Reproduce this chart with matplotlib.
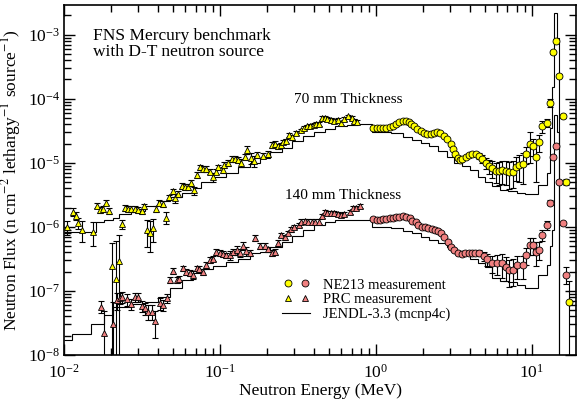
import numpy as np
from matplotlib import pyplot as plt
from matplotlib.legend_handler import HandlerTuple
from matplotlib.ticker import LogLocator, NullFormatter

# PRC measurement (E [MeV], flux, relative error)
prc_70 = [
    (0.0105, 1.0e-6, 0.25), (0.0114, 1.73e-6, 0.15), (0.0119, 1.5e-6, 0.15),
    (0.0123, 1.16e-6, 0.2), (0.0130, 9.0e-7, 0.35), (0.0153, 8.4e-7, 0.4),
    (0.0162, 2.15e-6, 0.1), (0.0170, 1.85e-6, 0.1), (0.0178, 1.9e-6, 0.1),
    (0.0186, 2.4e-6, 0.1), (0.0194, 1.77e-6, 0.1), (0.0203, 2.46e-7, 1.3),
    (0.0215, 1.54e-7, 2.9), (0.0225, 2.97e-7, 1.5), (0.0234, 1.1e-6, 0.15),
    (0.0245, 2.0e-6, 0.1), (0.0257, 1.9e-6, 0.1), (0.0270, 1.9e-6, 0.1),
    (0.0285, 1.9e-6, 0.1), (0.0298, 1.85e-6, 0.1), (0.0315, 1.75e-6, 0.1),
    (0.0326, 2.1e-6, 0.1), (0.0339, 8.8e-7, 0.45), (0.0356, 8.1e-7, 0.5),
    (0.0370, 9.6e-7, 0.4), (0.0389, 1.9e-6, 0.1), (0.0407, 2.4e-6, 0.1),
    (0.0431, 2.3e-6, 0.1), (0.045, 1.4e-6, 0.2), (0.047, 2.9e-6, 0.1),
    (0.050, 3.6e-6, 0.1), (0.0516, 2.8e-6, 0.15), (0.054, 3.3e-6, 0.1),
    (0.057, 4.4e-6, 0.1), (0.060, 4.2e-6, 0.1), (0.0625, 4.2e-6, 0.1),
    (0.065, 4.9e-6, 0.1), (0.068, 3.7e-6, 0.15), (0.071, 6.5e-6, 0.1),
    (0.075, 8.5e-6, 0.1), (0.078, 8.0e-6, 0.1), (0.082, 8.0e-6, 0.1),
    (0.086, 7.3e-6, 0.1), (0.090, 6.0e-6, 0.15), (0.094, 7.3e-6, 0.1),
    (0.098, 8.5e-6, 0.1), (0.104, 7.8e-6, 0.1), (0.107, 9.2e-6, 0.1),
    (0.112, 1.0e-5, 0.1), (0.119, 1.16e-5, 0.1), (0.125, 1.16e-5, 0.1),
    (0.130, 1.1e-5, 0.1), (0.137, 1.0e-5, 0.15), (0.145, 1.25e-5, 0.1),
    (0.150, 1.6e-5, 0.15), (0.158, 1.2e-5, 0.2), (0.166, 1.07e-5, 0.2),
    (0.174, 1.33e-5, 0.1), (0.190, 1.3e-5, 0.1), (0.203, 1.37e-5, 0.1),
    (0.215, 1.9e-5, 0.1), (0.225, 1.97e-5, 0.1), (0.235, 1.8e-5, 0.1),
    (0.245, 1.9e-5, 0.08), (0.255, 2.1e-5, 0.08), (0.265, 2.2e-5, 0.08),
    (0.278, 2.7e-5, 0.08), (0.290, 2.5e-5, 0.08), (0.310, 2.9e-5, 0.07),
    (0.330, 3.2e-5, 0.07), (0.345, 3.5e-5, 0.07), (0.360, 3.7e-5, 0.07),
    (0.380, 3.8e-5, 0.07), (0.400, 3.9e-5, 0.07), (0.415, 4.0e-5, 0.07),
    (0.430, 4.1e-5, 0.07), (0.450, 5.0e-5, 0.07), (0.470, 5.0e-5, 0.07),
    (0.490, 4.8e-5, 0.07), (0.520, 4.6e-5, 0.07), (0.540, 4.5e-5, 0.07),
    (0.570, 4.6e-5, 0.07), (0.600, 4.2e-5, 0.07), (0.630, 4.8e-5, 0.07),
    (0.660, 5.3e-5, 0.07), (0.700, 5.0e-5, 0.07), (0.730, 4.5e-5, 0.07),
    (0.760, 4.3e-5, 0.07),
]

prc_140 = [
    (0.0172, 5.7e-8, 0.2), (0.0181, 2.2e-8, 1.2), (0.0207, 3.1e-8, 1.2),
    (0.0218, 7.1e-8, 0.3), (0.0228, 7.7e-8, 0.2), (0.0237, 8.1e-8, 0.2),
    (0.0252, 7.4e-8, 0.2), (0.0269, 6.3e-8, 0.2), (0.0285, 8.0e-8, 0.15),
    (0.0300, 8.0e-8, 0.15), (0.0315, 5.8e-8, 0.2), (0.0330, 5.35e-8, 0.2),
    (0.0347, 4.75e-8, 0.25), (0.0365, 4.75e-8, 0.25), (0.0383, 3.4e-8, 0.45),
    (0.0412, 6.4e-8, 0.2), (0.0432, 6.0e-8, 0.2), (0.0456, 7.7e-8, 0.15),
    (0.0478, 1.49e-7, 0.1), (0.0502, 2.05e-7, 0.1), (0.0527, 1.49e-7, 0.1),
    (0.055, 1.53e-7, 0.1), (0.058, 2.26e-7, 0.1), (0.061, 2.0e-7, 0.1),
    (0.064, 1.9e-7, 0.1), (0.0675, 1.78e-7, 0.15), (0.071, 2.26e-7, 0.1),
    (0.074, 2.2e-7, 0.1), (0.078, 2.0e-7, 0.1), (0.082, 2.55e-7, 0.1),
    (0.086, 3.05e-7, 0.1), (0.090, 3.2e-7, 0.1), (0.095, 4.1e-7, 0.1),
    (0.100, 3.9e-7, 0.1), (0.105, 3.8e-7, 0.1), (0.110, 3.6e-7, 0.1),
    (0.116, 3.6e-7, 0.15), (0.122, 4.1e-7, 0.1), (0.128, 4.35e-7, 0.15),
    (0.134, 3.95e-7, 0.15), (0.141, 5.05e-7, 0.15), (0.148, 4.2e-7, 0.15),
    (0.155, 3.9e-7, 0.1), (0.167, 6.7e-7, 0.1), (0.180, 5.05e-7, 0.1),
    (0.194, 5.05e-7, 0.1), (0.203, 4.45e-7, 0.1), (0.215, 3.95e-7, 0.1),
    (0.225, 4.1e-7, 0.1), (0.236, 5.6e-7, 0.1), (0.248, 7.5e-7, 0.08),
    (0.260, 6.9e-7, 0.08), (0.275, 8.1e-7, 0.08), (0.287, 9.2e-7, 0.08),
    (0.300, 9.9e-7, 0.08), (0.320, 1.07e-6, 0.08), (0.330, 1.21e-6, 0.08),
    (0.350, 1.25e-6, 0.08), (0.370, 1.21e-6, 0.08), (0.390, 1.21e-6, 0.08),
    (0.410, 1.21e-6, 0.08), (0.430, 1.21e-6, 0.08), (0.450, 1.49e-6, 0.07),
    (0.470, 1.73e-6, 0.07), (0.490, 1.67e-6, 0.07), (0.520, 1.67e-6, 0.07),
    (0.540, 1.64e-6, 0.07), (0.570, 1.6e-6, 0.07), (0.600, 1.55e-6, 0.07),
    (0.630, 1.6e-6, 0.07), (0.680, 1.73e-6, 0.07), (0.710, 1.96e-6, 0.07),
    (0.750, 1.96e-6, 0.07), (0.790, 2.1e-6, 0.07),
]

# NE213 measurement (E [MeV], flux, relative error)
ne213_70 = [
    (0.96, 3.48e-5, 0.03), (1.02, 3.5e-5, 0.03), (1.06, 3.45e-5, 0.03),
    (1.11, 3.45e-5, 0.03), (1.17, 3.45e-5, 0.03), (1.23, 3.6e-5, 0.03),
    (1.29, 3.8e-5, 0.03), (1.35, 4.1e-5, 0.03), (1.42, 4.3e-5, 0.03),
    (1.49, 4.45e-5, 0.03), (1.57, 4.45e-5, 0.03), (1.63, 4.3e-5, 0.03),
    (1.69, 4.1e-5, 0.03), (1.76, 3.7e-5, 0.03), (1.85, 3.35e-5, 0.03),
    (1.94, 3.1e-5, 0.03), (2.03, 2.9e-5, 0.03), (2.14, 2.8e-5, 0.03),
    (2.25, 2.85e-5, 0.03), (2.36, 2.9e-5, 0.03), (2.48, 3.0e-5, 0.03),
    (2.60, 2.9e-5, 0.03), (2.73, 2.65e-5, 0.03), (2.87, 2.35e-5, 0.03),
    (3.02, 2.0e-5, 0.03), (3.12, 1.65e-5, 0.03), (3.24, 1.37e-5, 0.03),
    (3.35, 1.2e-5, 0.03), (3.48, 1.1e-5, 0.03), (3.60, 1.15e-5, 0.03),
    (3.78, 1.25e-5, 0.03), (3.97, 1.33e-5, 0.05), (4.17, 1.37e-5, 0.05),
    (4.38, 1.37e-5, 0.08), (4.60, 1.28e-5, 0.12), (4.83, 1.15e-5, 0.15),
    (5.08, 1.0e-5, 0.2), (5.34, 9.0e-6, 0.25), (5.60, 8.3e-6, 0.3),
    (5.89, 7.4e-6, 0.35), (6.20, 7.4e-6, 0.4), (6.50, 7.7e-6, 0.4),
    (6.84, 7.5e-6, 0.4), (7.20, 7.2e-6, 0.45), (7.60, 7.3e-6, 0.45),
    (7.95, 8.7e-6, 0.4), (8.35, 9.2e-6, 0.45), (8.80, 9.5e-6, 0.5),
    (9.20, 1.38e-5, 0.3), (9.70, 2.0e-5, 0.5), (10.2, 1.8e-5, 0.3),
    (10.7, 1.25e-5, 0.6), (11.2, 2.1e-5, 0.3), (11.7, 3.7e-5, 0.2),
    (12.5, 4.2e-5, 0.15), (13.1, 8.6e-5, 0.15), (13.7, 5.3e-4, 0.05),
    (14.3, 8.1e-4, 0.05), (15.0, 2.3e-4, 0.05), (15.8, 5.3e-5, 0.05),
    (16.5, 5.0e-6, 0.1), (17.4, 6.6e-8, 1.2),
]

ne213_140 = [
    (0.96, 1.32e-6, 0.03), (1.02, 1.28e-6, 0.03), (1.06, 1.28e-6, 0.03),
    (1.11, 1.32e-6, 0.03), (1.17, 1.35e-6, 0.03), (1.23, 1.39e-6, 0.03),
    (1.29, 1.4e-6, 0.03), (1.35, 1.45e-6, 0.03), (1.42, 1.45e-6, 0.03),
    (1.49, 1.48e-6, 0.03), (1.57, 1.45e-6, 0.03), (1.65, 1.36e-6, 0.03),
    (1.72, 1.25e-6, 0.03), (1.80, 1.17e-6, 0.03), (1.88, 1.07e-6, 0.03),
    (1.97, 1.01e-6, 0.03), (2.07, 9.8e-7, 0.03), (2.17, 9.5e-7, 0.03),
    (2.28, 9.2e-7, 0.03), (2.39, 8.9e-7, 0.03), (2.51, 8.5e-7, 0.03),
    (2.63, 8.0e-7, 0.03), (2.76, 7.0e-7, 0.03), (2.90, 5.9e-7, 0.03),
    (3.05, 4.9e-7, 0.03), (3.20, 4.4e-7, 0.03), (3.35, 3.9e-7, 0.03),
    (3.55, 3.8e-7, 0.03), (3.75, 3.85e-7, 0.03), (3.97, 3.9e-7, 0.05),
    (4.15, 3.9e-7, 0.05), (4.35, 3.95e-7, 0.08), (4.60, 3.9e-7, 0.1),
    (4.95, 3.5e-7, 0.15), (5.20, 3.1e-7, 0.2), (5.60, 2.7e-7, 0.3),
    (6.00, 2.7e-7, 0.35), (6.50, 2.7e-7, 0.4), (6.80, 2.4e-7, 0.4),
    (7.20, 2.1e-7, 0.45), (7.60, 2.15e-7, 0.45), (8.10, 2.55e-7, 0.4),
    (8.80, 2.55e-7, 0.4), (9.20, 3.6e-7, 0.3), (9.70, 5.2e-7, 0.3),
    (10.2, 5.2e-7, 0.3), (10.7, 4.1e-7, 0.4), (11.2, 4.4e-7, 0.3),
    (11.7, 7.5e-7, 0.2), (12.5, 1.07e-6, 0.15), (13.1, 2.4e-6, 0.1),
    (13.7, 1.25e-5, 0.05), (14.3, 1.84e-5, 0.05), (15.0, 5.1e-6, 0.05),
    (15.8, 1.13e-6, 0.05), (16.5, 1.8e-7, 0.3),
]

# JENDL-3.3 (mcnp4c): (lower group edge [MeV], 70 mm, 140 mm)
jendl = [
    (0.010, 8.4e-7, 1.7e-8), (0.0113, 8.4e-7, 2.1e-8), (0.0125, 8.4e-7, 2.1e-8),
    (0.015, 8.4e-7, 3.0e-8), (0.016, 1.2e-6, 3.0e-8), (0.018, 1.3e-6, 4.2e-8),
    (0.0205, 1.4e-6, 5.7e-8), (0.0225, 1.6e-6, 5.7e-8), (0.027, 1.75e-6, 6.3e-8),
    (0.033, 2.1e-6, 6.8e-8), (0.040, 2.5e-6, 8.1e-8), (0.048, 2.9e-6, 1.1e-7),
    (0.057, 3.4e-6, 1.5e-7), (0.067, 4.0e-6, 1.9e-7), (0.076, 5.0e-6, 2.2e-7),
    (0.090, 5.9e-6, 2.45e-7), (0.11, 7.0e-6, 2.85e-7), (0.13, 8.5e-6, 3.2e-7),
    (0.155, 1.0e-5, 3.85e-7), (0.18, 1.2e-5, 4.1e-7), (0.21, 1.45e-5, 4.8e-7),
    (0.25, 1.7e-5, 5.9e-7), (0.29, 2.2e-5, 7.2e-7), (0.34, 2.6e-5, 9.0e-7),
    (0.40, 3.0e-5, 1.07e-6), (0.47, 3.4e-5, 1.21e-6), (0.55, 3.7e-5, 1.28e-6),
    (0.65, 3.95e-5, 1.3e-6), (0.77, 4.0e-5, 1.3e-6), (0.95, 3.0e-5, 1.0e-6),
    (1.25, 2.9e-5, 9.5e-7), (1.5, 2.55e-5, 8.5e-7), (1.7, 2.3e-5, 8.0e-7),
    (1.95, 2.05e-5, 7.0e-7), (2.2, 1.8e-5, 6.3e-7), (2.5, 1.55e-5, 5.5e-7),
    (2.85, 1.25e-5, 4.9e-7), (3.2, 1.0e-5, 4.1e-7), (3.6, 9.0e-6, 3.6e-7),
    (4.0, 7.8e-6, 3.1e-7), (4.5, 6.0e-6, 2.7e-7), (5.0, 5.1e-6, 2.4e-7),
    (5.6, 4.4e-6, 1.6e-7), (6.3, 3.8e-6, 1.45e-7), (7.1, 3.6e-6, 1.4e-7),
    (8.0, 3.4e-6, 1.24e-7), (9.0, 3.3e-6, 1.1e-7), (10.0, 3.3e-6, 1.1e-7),
    (11.0, 4.5e-6, 1.8e-7), (12.5, 7.0e-6, 2.5e-7), (13.1, 3.5e-5, 5.0e-7),
    (13.5, 1.5e-4, 9.0e-7), (14.0, 2.2e-3, 5.5e-5), (14.5, 9.0e-4, 3.0e-5),
    (15.0, 1e-10, 1e-10),
]
jendl_top = 20.0

YELLOW = "#ffff00"
PINK = "#f08080"


def unpack(rows):
    a = np.array(rows)
    return a[:, 0], a[:, 1], a[:, 1] * a[:, 2]


def draw_points(ax, rows, marker, color, ms):
    e, f, err = unpack(rows)
    ax.errorbar(e, f, yerr=err, fmt="none", ecolor="black",
                elinewidth=0.8, capsize=2.5, capthick=0.8, zorder=3)
    (h,) = ax.plot(e, f, ls="none", marker=marker, ms=ms, mfc=color,
                   mec="black", mew=0.6, zorder=4)
    return h


def plot():
    plt.rcParams["font.family"] = ["Liberation Serif", "DejaVu Serif"]
    plt.rcParams["mathtext.fontset"] = "stix"

    fig = plt.figure(figsize=(5.78, 4.05), dpi=100)
    ax = fig.add_axes([0.1107, 0.1235, 0.8867, 0.864])

    j = np.array(jendl)
    edges = np.append(j[:, 0], jendl_top)
    jl = ax.stairs(j[:, 1], edges, color="black", lw=0.8, zorder=2,
                   baseline=None)
    ax.stairs(j[:, 2], edges, color="black", lw=0.8, zorder=2, baseline=None)

    c70 = draw_points(ax, ne213_70, "o", YELLOW, 5)
    c140 = draw_points(ax, ne213_140, "o", PINK, 5)
    t70 = draw_points(ax, prc_70, "^", YELLOW, 5)
    t140 = draw_points(ax, prc_140, "^", PINK, 5)

    ax.set_xscale("log")
    ax.set_yscale("log")
    ax.set_xlim(0.01, 19.4)
    ax.set_ylim(1e-8, 2.9e-3)

    for axis in (ax.xaxis, ax.yaxis):
        axis.set_major_locator(LogLocator(base=10, numticks=20))
        axis.set_minor_locator(LogLocator(base=10, subs=np.arange(2, 10), numticks=20))
        axis.set_minor_formatter(NullFormatter())
    ax.tick_params(which="both", direction="in", top=True, right=True,
                   width=1.0, labelsize=12.5)
    ax.tick_params(which="major", length=8)
    ax.tick_params(axis="x", which="major", pad=6)
    ax.tick_params(axis="y", which="major", pad=3)
    ax.tick_params(which="minor", length=5)
    for s in ax.spines.values():
        s.set_linewidth(1.2)

    ax.set_xlabel("Neutron Energy (MeV)", fontsize=12.5, labelpad=1)
    ax.set_ylabel("Neutron Flux (n cm$^{-2}$ lethargy$^{-1}$ source$^{-1}$)",
                  fontsize=12.5, labelpad=3)

    ax.text(0.057, 0.935, "FNS Mercury benchmark\nwith D-T neutron source",
            transform=ax.transAxes, fontsize=12.5, va="top", ha="left",
            linespacing=1.0)
    ax.text(0.554, 0.729, "70 mm Thickness", transform=ax.transAxes,
            fontsize=11, ha="center", va="center")
    ax.text(0.545, 0.457, "140 mm Thickness", transform=ax.transAxes,
            fontsize=11, ha="center", va="center")

    ax.legend([(c70, c140), (t70, t140), jl],
              ["NE213 measurement", "PRC measurement", "JENDL-3.3 (mcnp4c)"],
              handler_map={tuple: HandlerTuple(ndivide=None, pad=0.4)},
              frameon=False, loc="upper left", bbox_to_anchor=(0.412, 0.24),
              borderpad=0, fontsize=10.5, handlelength=1.9,
              handletextpad=0.9, labelspacing=0.1)

    fig.savefig("out.png", dpi=100)
    plt.close(fig)


if __name__ == "__main__":
    plot()
